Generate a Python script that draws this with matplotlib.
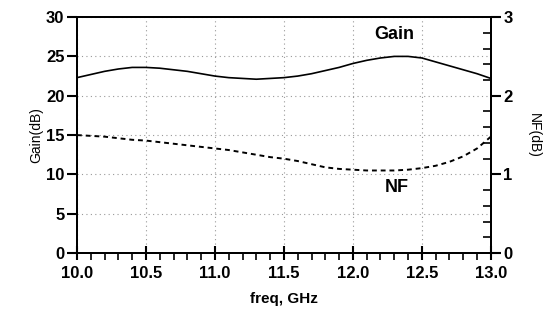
import matplotlib.pyplot as plt
from matplotlib.ticker import MultipleLocator

plt.rcParams['font.family'] = ['Liberation Sans', 'DejaVu Sans']

freq = [10.0, 10.1, 10.2, 10.3, 10.4, 10.5, 10.6, 10.7, 10.8, 10.9, 11.0,
        11.1, 11.2, 11.3, 11.4, 11.5, 11.6, 11.7, 11.8, 11.9, 12.0, 12.1,
        12.2, 12.3, 12.4, 12.5, 12.6, 12.7, 12.8, 12.9, 13.0]
gain = [22.3, 22.7, 23.1, 23.4, 23.6, 23.6, 23.5, 23.3, 23.1, 22.8, 22.5,
        22.3, 22.2, 22.1, 22.2, 22.3, 22.5, 22.8, 23.2, 23.6, 24.1, 24.5,
        24.8, 25.0, 25.0, 24.8, 24.3, 23.8, 23.3, 22.8, 22.2]
nf = [1.50, 1.49, 1.48, 1.46, 1.44, 1.43, 1.41, 1.39, 1.37, 1.35, 1.33,
      1.31, 1.28, 1.25, 1.22, 1.20, 1.17, 1.13, 1.09, 1.07, 1.06, 1.05,
      1.05, 1.05, 1.06, 1.08, 1.11, 1.16, 1.23, 1.33, 1.48]

fig = plt.figure(figsize=(5.46, 3.22), dpi=100)
ax = fig.add_axes([0.141, 0.214, 0.758, 0.733])
ax2 = ax.twinx()

ax.plot(freq, gain, color='black', lw=1.2)
ax2.plot(freq, nf, color='black', lw=1.4, ls=(0, (2.5, 2)))

ax.set_xlim(10, 13)
ax.set_ylim(0, 30)
ax2.set_ylim(0, 3)

ax.set_xticks([10.0, 10.5, 11.0, 11.5, 12.0, 12.5, 13.0])
ax.set_xticklabels(['10.0', '10.5', '11.0', '11.5', '12.0', '12.5', '13.0'])
ax.xaxis.set_minor_locator(MultipleLocator(0.1))
ax.set_yticks([0, 5, 10, 15, 20, 25, 30])
ax2.set_yticks([0, 1, 2, 3])
ax2.yaxis.set_minor_locator(MultipleLocator(0.2))

ax.grid(True, which='major', color='#999999', ls=(0, (1, 3)), lw=0.8)

ax.tick_params(axis='y', direction='out', length=7, width=1.5, labelsize=12, pad=2)
ax.tick_params(axis='x', which='major', direction='inout', length=10, width=1.5, labelsize=12, pad=4)
ax.tick_params(axis='x', which='minor', direction='out', length=5, width=1.2)
ax2.tick_params(axis='y', which='major', direction='out', length=7, width=1.5, labelsize=12, pad=2)
ax2.tick_params(axis='y', which='minor', direction='in', length=6, width=1.2)

for a in (ax, ax2):
    for s in a.spines.values():
        s.set_linewidth(1.4)
    for lab in a.get_xticklabels() + a.get_yticklabels():
        lab.set_fontweight('bold')

ax.set_xlabel('freq, GHz', fontsize=11, fontweight='bold', labelpad=8)
ax.set_ylabel('Gain(dB)', fontsize=10, labelpad=2)
ax2.set_ylabel('NF(dB)', fontsize=10, rotation=-90, labelpad=20)

ax.text(12.3, 27.8, 'Gain', fontsize=13, fontweight='bold', ha='center', va='center')
ax.text(12.32, 8.4, 'NF', fontsize=13, fontweight='bold', ha='center', va='center')

fig.savefig('out.png', dpi=100)
